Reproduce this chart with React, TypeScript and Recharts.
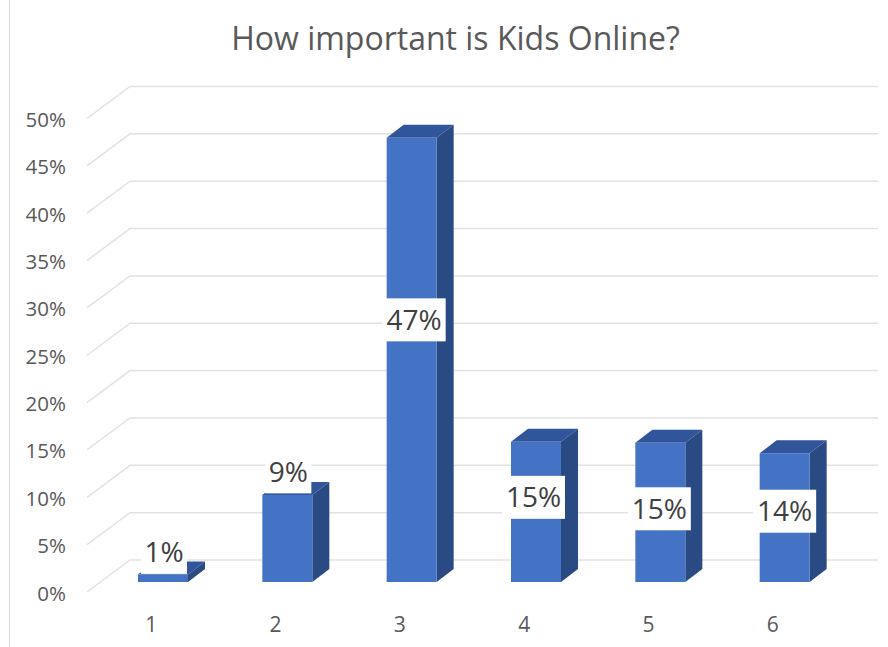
import { BarChart, Bar, CartesianGrid, XAxis, YAxis, LabelList } from "recharts";

const CATEGORIES = ["1", "2", "3", "4", "5", "6"]
const VALUES = [0.8, 9.2, 46.9, 14.8, 14.7, 13.6]
const VALUE_LABELS = ["1%", "9%", "47%", "15%", "15%", "14%"]
const Y_TICKS = [0, 5, 10, 15, 20, 25, 30, 35, 40, 45, 50]

// label centre, measured from the top of the bar's front face
const LABEL_DX = [1, 1, 2.5, -2.5, -1, 0]
const LABEL_DY = [-22, -23, 182, 55.5, 66, 58]

const DEPTH_X = 17
const DEPTH_Y = 13
const FONT = "'Open Sans', sans-serif"

const graphData = CATEGORIES.map((name, idx) => ({ name, value: VALUES[idx] }))

function Bar3D({ x, y, width, height }: any) {
    return (
        <g>
            <path d={`M${x} ${y} l${DEPTH_X} ${-DEPTH_Y} h${width} l${-DEPTH_X} ${DEPTH_Y} z`} fill="#30559A" />
            <path d={`M${x + width} ${y} l${DEPTH_X} ${-DEPTH_Y} v${height} l${-DEPTH_X} ${DEPTH_Y} z`} fill="#2A4A83" />
            <rect x={x} y={y} width={width} height={height} fill="#4472C4" />
        </g>
    )
}

// gridlines run along the chart's floor/wall: short diagonal then across the back
function GridLine({ y1, key }: any) {
    return <polyline key={key} points={`87,${y1 + 10} 130,${y1 - 22} 878,${y1 - 22}`} fill="none" stroke="#E2E2E2" strokeWidth={1.5} />
}

function YTick({ y, payload }: any) {
    return <text x={66} y={y + 10} dy={8.5} textAnchor="end" fontSize={20.5} fontFamily={FONT} fill="#595959">{payload.value}%</text>
}

function XTick({ x, y, payload }: any) {
    return <text x={x - 12} y={y} dy={42} textAnchor="middle" fontSize={21} fontFamily={FONT} fill="#595959">{payload.value}</text>
}

function ValueLabel({ x, y, width, index }: any) {
    const text = VALUE_LABELS[index]
    const cx = x + width / 2 + LABEL_DX[index]
    const cy = y + LABEL_DY[index]
    const boxWidth = text.length === 2 ? 46 : 63
    return (
        <g>
            <rect x={cx - boxWidth / 2} y={cy - 21.5} width={boxWidth} height={43} fill="#fff" />
            <text x={cx} y={cy} dy={10} textAnchor="middle" fontSize={28} fontFamily={FONT} fill="#404040">{text}</text>
        </g>
    )
}

export default function App() {
    return (
        <div style={{ position: "absolute", left: 0, top: 0, width: 888, height: 647, background: "#fff", overflow: "hidden" }}>
            <div style={{ position: "absolute", left: 9, top: 0, width: 1, height: 647, background: "#D9D9D9" }} />
            <div style={{ position: "absolute", left: 0, top: 16, width: 911, textAlign: "center", fontFamily: FONT, fontSize: 32, color: "#595959", whiteSpace: "nowrap" }}>
                How important is Kids Online?
            </div>
            <BarChart
                width={888}
                height={647}
                data={graphData}
                margin={{ top: 108.5, right: 41, bottom: 0, left: 0 }}
                barSize={50}
                style={{ position: "absolute", left: 0, top: 0 }}
            >
                <CartesianGrid vertical={false} horizontal={(props: any) => <GridLine {...props} />} />
                <XAxis dataKey="name" axisLine={false} tickLine={false} tick={<XTick />} height={65} />
                <YAxis width={101} domain={[0, 50]} ticks={Y_TICKS} axisLine={false} tickLine={false} tick={<YTick />} interval={0} />
                <Bar dataKey="value" isAnimationActive={false} shape={<Bar3D />}>
                    <LabelList dataKey="value" content={<ValueLabel />} />
                </Bar>
            </BarChart>
        </div>
    )
}
